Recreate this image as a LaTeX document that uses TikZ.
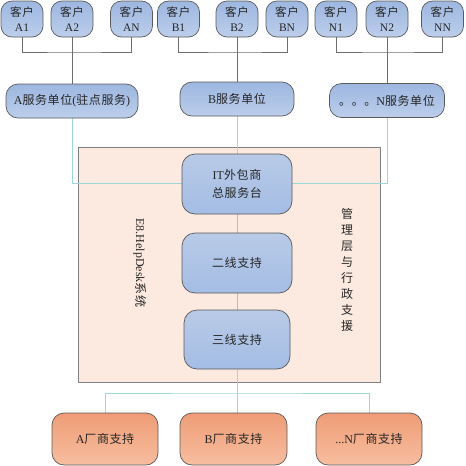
\documentclass[tikz,border=0pt]{standalone}
\usepackage{fontspec}
\setmainfont{Liberation Serif}
\newfontfamily\zhf[LetterSpace=5]{Noto Sans CJK SC}
\newcommand{\zh}[1]{{\zhf #1}}
\usetikzlibrary{shadings}
\pgfdeclarelayer{panel}
\pgfdeclarelayer{bg}
\pgfsetlayers{panel,bg,main}
\definecolor{txt}{HTML}{262626}
\definecolor{bordr}{HTML}{5A5A5A}
\definecolor{cyanl}{HTML}{9ED6DA}
\definecolor{grayl}{HTML}{6E6E6E}
\definecolor{midl}{HTML}{B4BEC8}
\definecolor{cbtop}{HTML}{9DB7E0}
\definecolor{cbbot}{HTML}{BCCEEB}
\definecolor{lvtop}{HTML}{B8CAE6}
\definecolor{lvbot}{HTML}{A4BDE5}
\definecolor{vdtop}{HTML}{EE9C76}
\definecolor{vdbot}{HTML}{F7BE9F}
\definecolor{pnldraw}{HTML}{808080}
\definecolor{pnlfill}{HTML}{FCE9E0}
\tikzset{
  base/.style={rectangle, rounded corners=11pt, draw=bordr, line width=0.7pt, inner sep=0pt, text=txt, font=\fontsize{12}{15}\selectfont, align=center},
  client/.style={base, top color=cbtop, bottom color=cbbot, minimum width=42pt, minimum height=36pt, rounded corners=11pt, font=\fontsize{11.5}{15}\selectfont},
  svc/.style={base, top color=cbtop, bottom color=cbbot, minimum height=34pt, rounded corners=12pt},
  level/.style={base, top color=lvtop, middle color=white, bottom color=lvbot, minimum width=110pt, minimum height=60pt, rounded corners=13pt, font=\fontsize{12}{18}\selectfont},
  vendor/.style={base, top color=vdtop, bottom color=vdbot, minimum width=106pt, minimum height=52pt, rounded corners=12pt},
  panelbox/.style={rectangle, draw=pnldraw, fill=pnlfill, line width=0.8pt, inner sep=0pt},
  cline/.style={draw=grayl, line width=0.8pt},
  sline/.style={draw=cyanl, line width=1pt},
  mline/.style={draw=midl, line width=1pt},
  vtext/.style={text=txt, font=\fontsize{12}{16}\selectfont, align=center, inner sep=0pt}
}
\begin{document}
\begin{tikzpicture}[x=1pt,y=-1pt]
\useasboundingbox (0,0) rectangle (466,466);
% clients
\node[client] (A1) at (22,19) {\zh{客户}\\A1};
\node[client] (A2) at (72,19) {\zh{客户}\\A2};
\node[client] (AN) at (131.5,19) {\zh{客户}\\AN};
\node[client] (B1) at (178.5,19) {\zh{客户}\\B1};
\node[client] (B2) at (237,19) {\zh{客户}\\B2};
\node[client] (BN) at (287,19) {\zh{客户}\\BN};
\node[client] (N1) at (336,19) {\zh{客户}\\N1};
\node[client] (N2) at (387,19) {\zh{客户}\\N2};
\node[client] (NN) at (442.5,19) {\zh{客户}\\NN};
% service units
\node[svc, minimum width=132pt] (AS) at (72,101) {A\zh{服务单位}(\zh{驻点服务})};
\node[svc, minimum width=114pt] (BS) at (237,99) {B\zh{服务单位}};
\node[svc, minimum width=115pt] (NS) at (387,100.5) {\zh{。。。}N\zh{服务单位}};
% panel
\begin{pgfonlayer}{panel}
\node[panelbox, minimum width=302pt, minimum height=235pt] (sys) at (229,264.5) {};
\end{pgfonlayer}
% levels
\node[level] (L1) at (237,184) {IT\zh{外包商}\\\zh{总服务台}};
\node[level] (L2) at (237,263) {\zh{二线支持}};
\node[level, minimum width=106pt, minimum height=59pt] (L3) at (237,339.5) {\zh{三线支持}};
% side texts
\node[vtext, rotate=-90] (E8) at (140,263) {E8.HelpDesk\zh{系统}};
\node[vtext] (MG) at (347,270) {\zh{管}\\\zh{理}\\\zh{层}\\\zh{与}\\\zh{行}\\\zh{政}\\\zh{支}\\\zh{援}};
% vendors
\node[vendor] (VA) at (105,439) {A\zh{厂商支持}};
\node[vendor, minimum width=107pt] (VB) at (233.5,439) {B\zh{厂商支持}};
\node[vendor] (VN) at (369,439) {...N\zh{厂商支持}};
% junctions
\coordinate (jA) at (72,52);
\coordinate (jB) at (237,52);
\coordinate (jN) at (387,52);
\coordinate (jM) at (72,183);
\coordinate (jV) at (237,393);
\begin{pgfonlayer}{bg}
\draw[cline] (A1.south) |- (jA) -| (AN.south);
\draw[cline] (A2.south) -- (AS.north);
\draw[cline] (B1.south) |- (jB) -| (BN.south);
\draw[cline] (B2.south) -- (BS.north);
\draw[cline] (N1.south) |- (jN) -| (NN.south);
\draw[cline] (N2.south) -- (NS.north);
\draw[sline] (AS.south) -- (jM) -| (NS.south);
\draw[sline] (BS.south) -- (L1.north);
\draw[mline] (L1.south) -- (L2.north);
\draw[mline] (L2.south) -- (L3.north);
\draw[sline] (L3.south) -- (jV);
\draw[sline] (VA.north) |- (jV) -| (VN.north);
\draw[sline] (jV) -- (jV |- VB.north);
\end{pgfonlayer}
\end{tikzpicture}
\end{document}
